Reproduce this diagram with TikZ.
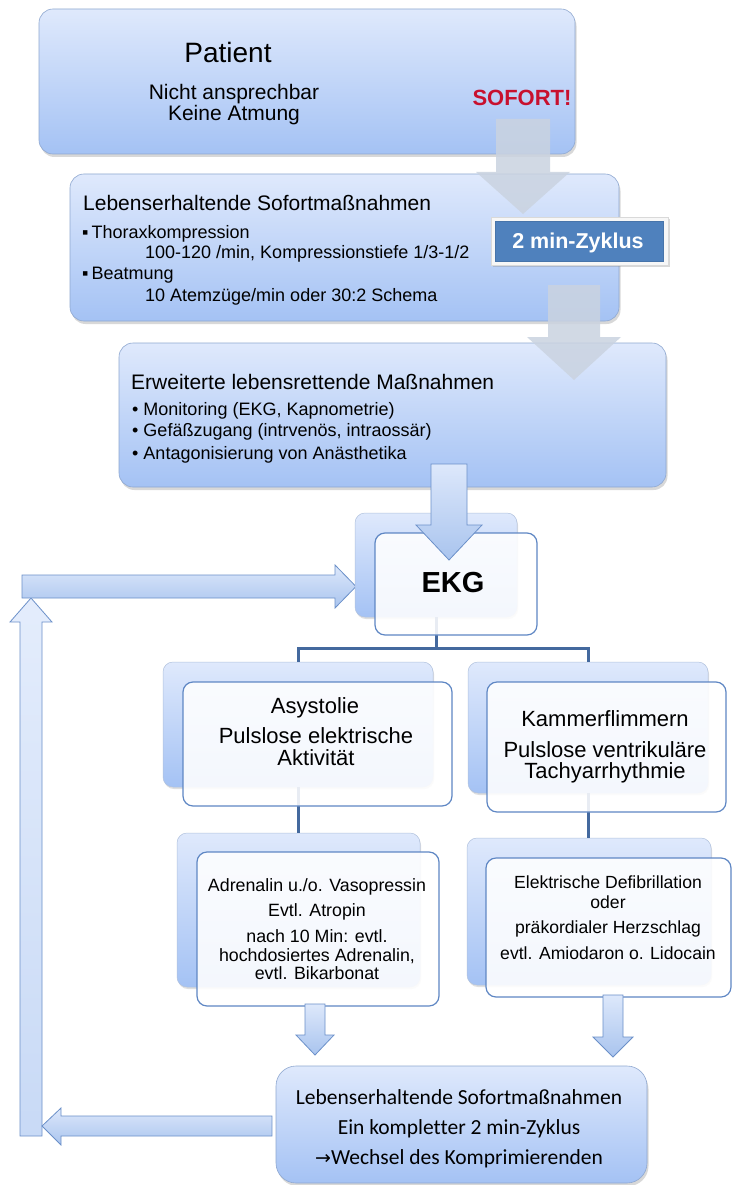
\documentclass[tikz,border=0pt]{standalone}
\usepackage{fontspec}
\setmainfont{Liberation Sans}
\newfontfamily\calfont[Ligatures=NoCommon]{Carlito}
\newfontfamily\symfont{DejaVu Sans}
\usetikzlibrary{shadows,calc}
\definecolor{btop}{HTML}{DFE9FC}
\definecolor{bbot}{HTML}{A4C2F4}
\definecolor{bline}{HTML}{8FA8D0}
\definecolor{fline}{HTML}{5F87C4}
\definecolor{conn}{HTML}{44699E}
\definecolor{garrow}{HTML}{CAD3E0}
\definecolor{atop}{HTML}{DDE8FB}
\definecolor{abot}{HTML}{A9C4EE}
\definecolor{aline}{HTML}{6B90C9}
\definecolor{zyk}{HTML}{4F81BD}
\definecolor{sofort}{HTML}{C8102E}
\newcommand{\fsz}[1]{\fontsize{#1}{#1}\selectfont}
\tikzset{
  gbox/.style={draw=bline, line width=0.6pt, top color=btop, bottom color=bbot,
    rounded corners=14pt, inner sep=0pt,
    drop shadow={opacity=0.3, shadow xshift=1.5pt, shadow yshift=-3pt}},
  backbox/.style={draw=bline!70, line width=0.5pt, top color=btop, bottom color=bbot,
    rounded corners=10pt, inner sep=0pt,
    drop shadow={opacity=0.25, shadow xshift=1pt, shadow yshift=-2pt}},
  frontbox/.style={draw=fline, line width=1.2pt, fill=white, fill opacity=0.88,
    draw opacity=1, rounded corners=10pt, inner sep=0pt},
  grayarrow/.style={fill=garrow, fill opacity=0.85, draw=none},
  bluearrow/.style={draw=aline, line width=0.8pt, top color=atop, bottom color=abot},
  conline/.style={draw=conn, line width=3pt},
  txt/.style={inner sep=0pt, anchor=base, text=black},
  ltxt/.style={inner sep=0pt, anchor=base west, text=black},
}
\begin{document}
\begin{tikzpicture}[x=1pt,y=-1pt]
\useasboundingbox[fill=white] (0,0) rectangle (734,1185);

% main boxes
\node[gbox, minimum width=536pt, minimum height=145pt] (patient) at (307,81.5) {};
\node[gbox, minimum width=549pt, minimum height=147pt] (bls) at (344.5,247.5) {};
\node[gbox, minimum width=547pt, minimum height=144pt] (als) at (392.5,415) {};

% patient texts
\node[txt] (tpat) at (228,63) {\fsz{28}Patient};
\node[txt] (tnicht) at (234,100) {\fsz{21}Nicht ansprechbar};
\node[txt] (tkeine) at (234,121) {\fsz{21}Keine Atmung};
\node[txt, text=sofort] (tsofort) at (522,106) {\fsz{22}\bfseries SOFORT!};

% BLS texts
\node[ltxt] (tbls) at (83,211) {\fsz{21}Lebenserhaltende Sofortmaßnahmen};
\node[ltxt] (tb1) at (82,238) {\fsz{18}▪\,Thoraxkompression};
\node[ltxt] (tb1a) at (145,258) {\fsz{18}100-120 /min, Kompressionstiefe 1/3-1/2};
\node[ltxt] (tb2) at (82,279) {\fsz{18}▪\,Beatmung};
\node[ltxt] (tb2a) at (145,301) {\fsz{18}10 Atemzüge/min oder 30:2 Schema};

% ALS texts
\node[ltxt] (tals) at (131,389) {\fsz{21}Erweiterte lebensrettende Maßnahmen};
\node[ltxt] (ta1) at (132,415) {\fsz{18}•\ Monitoring (EKG, Kapnometrie)};
\node[ltxt] (ta2) at (132,436) {\fsz{18}•\ Gefäßzugang (intrvenös, intraossär)};
\node[ltxt] (ta3) at (132,459) {\fsz{18}•\ Antagonisierung von Anästhetika};

% gray arrows
\draw[grayarrow] (496,119) -- (550,119) -- (550,172) -- (570,172) -- (523,214)
  -- (476,172) -- (496,172) -- cycle;
\draw[grayarrow] (548,285) -- (600,285) -- (600,337) -- (621,337) -- (574,380)
  -- (527,337) -- (548,337) -- cycle;

% 2 min box
\node[draw=black!15, fill=black!3, line width=0.8pt, minimum width=177pt, minimum height=48pt,
  inner sep=0pt, drop shadow={opacity=0.3, shadow xshift=2pt, shadow yshift=-2pt}]
  (zykout) at (579.5,241) {};
\node[fill=zyk, draw=zyk!90!black, line width=0.5pt, minimum width=168pt, minimum height=40pt,
  inner sep=0pt] (zyk) at (579.5,241) {};
\node[txt, text=white] (tzyk) at (578,248) {\fsz{21.5}\bfseries 2 min-Zyklus};

% left loop arrows
\draw[bluearrow, top color=atop!80!white, bottom color=atop!60!abot]
  (20,1136) -- (42,1136) -- (42,622) -- (52,622) -- (31,598) -- (10,622) -- (20,622) -- cycle;
\draw[bluearrow] (22,575) -- (335,575) -- (335,565) -- (356,586.5) -- (335,608)
  -- (335,598) -- (22,598) -- cycle;

% EKG
\node[backbox, minimum width=162pt, minimum height=104pt] (ekgb) at (436,565) {};

% tree back boxes
\node[backbox, minimum width=270pt, minimum height=125pt] (asyb) at (298,724.5) {};
\node[backbox, minimum width=240pt, minimum height=131pt] (kamb) at (588,727.5) {};
\node[backbox, minimum width=243pt, minimum height=154pt] (adrb) at (298.5,910) {};
\node[backbox, minimum width=244pt, minimum height=147pt] (defb) at (589,911.5) {};

% connectors
\coordinate (split) at (436,648);
\draw[conline] (ekgb.south) -- (split);
\draw[conline] (split) -| (asyb.north);
\draw[conline] (split) -| (kamb.north);
\draw[conline] (asyb.south) -- (asyb.south |- adrb.north);
\draw[conline] (kamb.south) -- (kamb.south |- defb.north);

% front boxes
\node[frontbox, minimum width=162pt, minimum height=102pt] (ekgf) at (456,584) {};
\node[frontbox, minimum width=269pt, minimum height=124pt] (asyf) at (317.5,744) {};
\node[frontbox, minimum width=239pt, minimum height=130pt] (kamf) at (606.5,747) {};
\node[frontbox, minimum width=242pt, minimum height=154pt] (adrf) at (318,929) {};
\node[frontbox, minimum width=245pt, minimum height=139pt] (deff) at (608.5,927.5) {};

% arrow into EKG
\draw[bluearrow] (431,464) -- (467,464) -- (467,525) -- (482,525) -- (449,560)
  -- (416,525) -- (431,525) -- cycle;

\node[txt] (tekg) at (453,592) {\fsz{29}\bfseries EKG};

% tree texts
\node[txt] (tasy1) at (315,713) {\fsz{22}Asystolie};
\node[txt] (tasy2) at (316,743) {\fsz{22}Pulslose elektrische};
\node[txt] (tasy3) at (316,765) {\fsz{22}Aktivität};
\node[txt] (tkam1) at (605,726) {\fsz{22}Kammerflimmern};
\node[txt] (tkam2) at (605,757) {\fsz{22}Pulslose ventrikuläre};
\node[txt] (tkam3) at (605,778) {\fsz{22}Tachyarrhythmie};

\node[txt] (tadr1) at (317,891) {\fsz{17.8}Adrenalin u./o. Vasopressin};
\node[txt] (tadr2) at (317,916) {\fsz{17.8}Evtl. Atropin};
\node[txt] (tadr3) at (317,942) {\fsz{17.8}nach 10 Min: evtl.};
\node[txt] (tadr4) at (317,961) {\fsz{17.8}hochdosiertes Adrenalin,};
\node[txt] (tadr5) at (317,979) {\fsz{17.8}evtl. Bikarbonat};
\node[txt] (tdef1) at (608,888) {\fsz{17.6}Elektrische Defibrillation};
\node[txt] (tdef2) at (608,908) {\fsz{17.6}oder};
\node[txt] (tdef3) at (608,933) {\fsz{17.6}präkordialer Herzschlag};
\node[txt] (tdef4) at (608,959) {\fsz{17.6}evtl. Amiodaron o. Lidocain};

% small down arrows
\draw[bluearrow] (305,1004) -- (325,1004) -- (325,1035) -- (334,1035) -- (315,1055)
  -- (296,1035) -- (305,1035) -- cycle;
\draw[bluearrow] (603,995) -- (623,995) -- (623,1037) -- (633,1037) -- (613,1057)
  -- (593,1037) -- (603,1037) -- cycle;

% return arrow
\draw[bluearrow] (272,1116) -- (61,1116) -- (61,1108) -- (42,1126) -- (61,1145)
  -- (61,1136) -- (272,1136) -- cycle;

% bottom box
\node[gbox, rounded corners=20pt, minimum width=371pt, minimum height=117pt] (bottom) at (461.5,1124.5) {};
\node[txt] (tbot1) at (459,1104) {\calfont\fsz{21.5}Lebenserhaltende Sofortmaßnahmen};
\node[txt] (tbot2) at (459,1134) {\calfont\fsz{21.5}Ein kompletter 2 min-Zyklus};
\node[txt] (tbot3) at (459,1164) {\calfont\fsz{21.5}{\symfont\fsz{19}→}Wechsel des Komprimierenden};
\end{tikzpicture}
\end{document}
